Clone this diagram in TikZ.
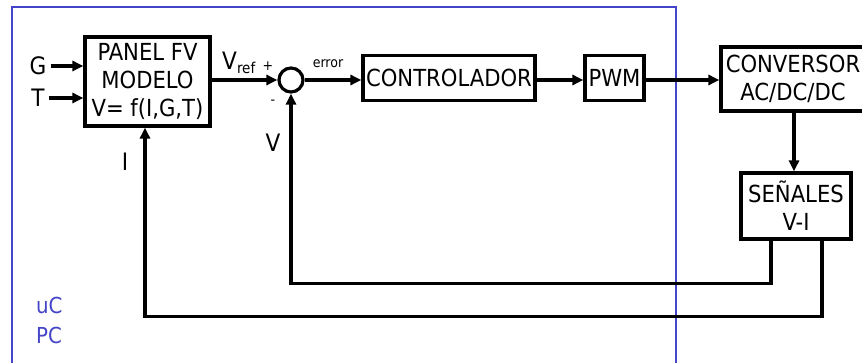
\documentclass[tikz,border=0pt]{standalone}
\usepackage{fontspec}
\setmainfont{DejaVu Sans Condensed}
\usetikzlibrary{arrows.meta}
\definecolor{pcblue}{RGB}{68,68,200}
\tikzset{
  blk/.style={draw=black, line width=3.2pt, inner sep=0pt, align=center,
    font=\fontsize{23.5}{28}\selectfont},
  arr/.style={line width=3.2pt, -{Triangle[length=11pt,width=10pt]}},
  lbl/.style={inner sep=0pt, font=\fontsize{24}{26}\selectfont},
  small/.style={inner sep=0pt, font=\fontsize{14}{16}\selectfont},
  bluelbl/.style={inner sep=0pt, text=pcblue, font=\fontsize{22}{24}\selectfont}
}
\begin{document}
\begin{tikzpicture}[x=1pt,y=-1pt]
\useasboundingbox (0,0) rectangle (862,363);
% PC frame
\draw[pcblue, line width=2.8pt] (12,7) rectangle (676,375);
% blocks
\node[blk, minimum width=125pt, minimum height=89pt] (panel) at (147.5,81.5) {PANEL FV\\MODELO\\V= f(I,G,T)};
\node[circle, draw=black, line width=3.2pt, minimum size=24pt, inner sep=0pt] (sum) at (291,80) {};
\node[blk, minimum width=172pt, minimum height=45pt] (ctrl) at (449,78) {CONTROLADOR};
\node[blk, minimum width=59pt, minimum height=45pt] (pwm) at (614.5,78) {PWM};
\node[blk, minimum width=144pt, minimum height=64pt] (conv) at (793,79) {CONVERSOR\\AC/DC/DC};
\node[blk, minimum width=110pt, minimum height=66pt] (sen) at (796,206) {SEÑALES\\V-I};
% labels
\node[lbl] (G) at (38,66) {G};
\node[lbl] (T) at (38,98) {T};
\node[lbl] (vref) at (239,63) {V\textsubscript{\fontsize{15}{16}\selectfont ref}};
\node[small] (plus) at (268,66) {+};
\node[small] (minus) at (273,102) {-};
\node[small] (err) at (328,64) {error};
\node[lbl] (vlab) at (273,143) {V};
\node[lbl] (ilab) at (125,162) {I};
\node[bluelbl, anchor=west] (uc) at (36,305) {uC};
\node[bluelbl, anchor=west] (pc) at (36,335) {PC};
% connectors
\draw[arr] (G.east) ++(4,0) coordinate (g0) -- (g0 -| panel.west);
\draw[arr] (T.east) ++(4,0) coordinate (t0) -- (t0 -| panel.west);
\draw[arr] (panel.east |- sum.west) -- (sum.west);
\draw[arr] (sum.east) -- (sum.east -| ctrl.west);
\draw[arr] (ctrl.east |- 0,80) -- (pwm.west |- 0,80);
\draw[arr] (pwm.east |- 0,80) -- (conv.west |- 0,80);
\draw[arr] (conv.south -| 794,0) -- (sen.north -| 794,0);
\coordinate (vout) at (sen.south -| 771,0);
\coordinate (iout) at (sen.south -| 822,0);
\draw[arr] (vout) -- ++(0,43) -| (sum.south);
\draw[arr] (iout) -- ++(0,76) -| ([xshift=-2.5pt]panel.south);
\end{tikzpicture}
\end{document}
